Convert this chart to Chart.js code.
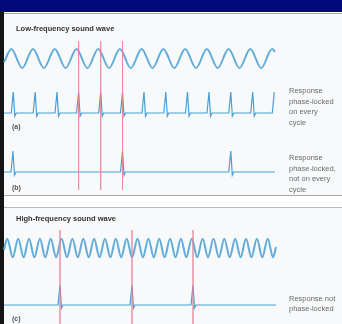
<!DOCTYPE html>
<html>
<head>
<meta charset="utf-8">
<script src="https://cdn.jsdelivr.net/npm/chart.js@4"></script>
<style>
  html, body { margin: 0; padding: 0; background: #fff; }
  #wrap { position: relative; width: 342px; height: 324px; overflow: hidden; background: #f7f9fb; }
  .band { position: absolute; }
  #chart { position: absolute; left: 0; top: 0; }
  .txt { position: absolute; font-family: "Liberation Sans", Arial, sans-serif; white-space: nowrap; }
  .title { font-size: 7.5px; font-weight: bold; color: #333; line-height: 9px; }
  .note { font-size: 7.5px; color: #6a6a6a; line-height: 10.5px; }
  .tag { font-size: 7px; font-weight: bold; color: #555; line-height: 9px; }
</style>
</head>
<body>
<div id="wrap">
  <div class="band" style="left:0;top:0;width:342px;height:12px;background:#00097c"></div>
  <div class="band" style="left:0;top:12px;width:342px;height:1.5px;background:#fff"></div>
  <div class="band" style="left:0;top:13px;width:342px;height:1px;background:#a4a6a8"></div>
  <div class="band" style="left:0;top:195px;width:342px;height:12px;background:#fdfdfd"></div>
  <div class="band" style="left:0;top:194.5px;width:342px;height:1px;background:#a8aaac"></div>
  <div class="band" style="left:0;top:206.5px;width:342px;height:1px;background:#b8babc"></div>
  <div class="band" style="left:0;top:12px;width:4px;height:312px;background:#141414"></div>
  <canvas id="chart" width="342" height="324"></canvas>

  <div class="txt title" style="left:16px;top:23.5px">Low-frequency sound wave</div>
  <div class="txt title" style="left:16px;top:213.5px">High-frequency sound wave</div>
  <div class="txt tag" style="left:12px;top:121.5px">(a)</div>
  <div class="txt tag" style="left:12px;top:182.5px">(b)</div>
  <div class="txt tag" style="left:12px;top:313.5px">(c)</div>
  <div class="txt note" style="left:289px;top:86px">Response<br>phase-locked<br>on every<br>cycle</div>
  <div class="txt note" style="left:289px;top:153px">Response<br>phase-locked,<br>not on every<br>cycle</div>
  <div class="txt note" style="left:289px;top:294px;line-height:9.5px">Response not<br>phase-locked</div>
</div>

<script>
// time axis in drawing units

// low-frequency wave: start, peaks and troughs, end
const lowStart = { x: 4, v: -0.4 };
const lowEnd = { x: 275, v: 0.7 };
const lowPeaks = [11.3, 33.0, 54.8, 76.5, 98.2, 119.9, 141.7, 163.4, 185.1, 206.9, 228.6, 250.3, 272.1];
const lowTroughs = [22.2, 43.9, 65.6, 87.4, 109.1, 130.8, 152.5, 174.3, 196.0, 217.7, 239.5, 261.2];

// high-frequency wave
const highStart = { x: 4, v: -0.2 };
const highEnd = { x: 276, v: 0.1 };
const highPeaks = [7.3, 18.2, 29.0, 39.9, 50.7, 61.6, 72.4, 83.3, 94.1, 105.0, 115.8, 126.7, 137.5,
  148.4, 159.2, 170.1, 180.9, 191.8, 202.6, 213.5, 224.3, 235.2, 246.0, 256.9, 267.7];
const highTroughs = [12.7, 23.6, 34.4, 45.3, 56.1, 67.0, 77.8, 88.7, 99.5, 110.4, 121.2, 132.1, 142.9,
  153.8, 164.6, 175.5, 186.3, 197.2, 208.0, 218.9, 229.7, 240.6, 251.4, 262.3, 273.1];

// spike times
const spikesA = [13.3, 35.2, 57.0, 78.6, 100.7, 122.5, 144.0, 165.8, 187.5, 209.0, 230.8, 252.7, 274.3];
const spikesB = [13.0, 122.5, 230.8];
const spikesC = [60.0, 132.0, 193.0];

// red reference lines
const markersLow = [78.6, 100.7, 122.5];
const markersHigh = [60.0, 132.0, 193.0];

// spike shape (offset in time, relative height)
const spikeDx = [-2.0, 0, 1.5, 3.0];
const spikeDy = [0, 1, -0.15, 0];

// rows on the vertical layout axis
const rows = {
  low: { mid: 58.5, amp: 9.6 },
  a: { base: 113, h: 21, from: 4, to: 274.3 },
  b: { base: 172, h: 21, from: 4, to: 275 },
  high: { mid: 248, amp: 9.2 },
  c: { base: 305, h: 20, from: 4, to: 276 },
  markLow: [41, 190],
  markHigh: [230, 324]
};

const WAVE = '#62acd9';
const SPIKE = '#4aa0d3';
const MARK = 'rgba(228, 130, 150, 0.6)';

function waveData(start, peaks, troughs, end, row) {
  const pts = [{ x: start.x, v: start.v }];
  peaks.forEach(x => pts.push({ x: x, v: 1 }));
  troughs.forEach(x => pts.push({ x: x, v: -1 }));
  pts.push({ x: end.x, v: end.v });
  pts.sort((p, q) => p.x - q.x);
  return pts.map(p => ({ x: p.x, y: row.mid - row.amp * p.v }));
}

function spikeData(times, row) {
  const pts = [{ x: row.from, y: row.base }];
  times.forEach(t => {
    spikeDx.forEach((dx, i) => {
      const x = t + dx;
      if (x <= row.to + 0.01) pts.push({ x: x, y: row.base - row.h * spikeDy[i] });
    });
  });
  const last = pts[pts.length - 1];
  if (last.x < row.to) pts.push({ x: row.to, y: row.base });
  return pts;
}

function markerSets(times, span) {
  return times.map(t => ({
    data: [{ x: t, y: span[0] }, { x: t, y: span[1] }],
    borderColor: MARK,
    borderWidth: 1,
    pointRadius: 0,
    tension: 0
  }));
}

const datasets = [
  ...markerSets(markersLow, rows.markLow),
  ...markerSets(markersHigh, rows.markHigh),
  { data: waveData(lowStart, lowPeaks, lowTroughs, lowEnd, rows.low), borderColor: WAVE, borderWidth: 2, pointRadius: 0, cubicInterpolationMode: 'monotone' },
  { data: waveData(highStart, highPeaks, highTroughs, highEnd, rows.high), borderColor: WAVE, borderWidth: 2, pointRadius: 0, cubicInterpolationMode: 'monotone' },
  { data: spikeData(spikesA, rows.a), borderColor: SPIKE, borderWidth: 1.2, pointRadius: 0, tension: 0 },
  { data: spikeData(spikesB, rows.b), borderColor: SPIKE, borderWidth: 1.2, pointRadius: 0, tension: 0 },
  { data: spikeData(spikesC, rows.c), borderColor: SPIKE, borderWidth: 1.2, pointRadius: 0, tension: 0 }
];

new Chart(document.getElementById('chart').getContext('2d'), {
  type: 'line',
  data: { datasets: datasets },
  options: {
    responsive: false,
    animation: false,
    layout: { padding: 0 },
    scales: {
      x: { type: 'linear', min: 0, max: 342, display: false },
      y: { type: 'linear', min: 0, max: 324, reverse: true, display: false }
    },
    plugins: { legend: { display: false }, tooltip: { enabled: false } }
  }
});
</script>
</body>
</html>
